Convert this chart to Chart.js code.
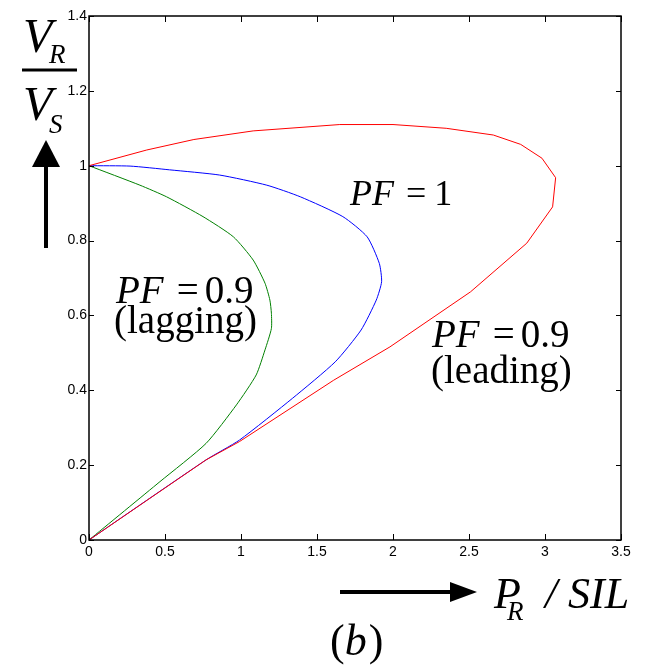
<!DOCTYPE html>
<html>
<head>
<meta charset="utf-8">
<script src="https://cdn.jsdelivr.net/npm/chart.js@4/dist/chart.umd.min.js"></script>
<style>
  html, body { margin: 0; padding: 0; background: #fff; }
  #wrap { width: 649px; height: 668px; position: relative; }
</style>
</head>
<body>
<div id="wrap"><canvas id="chartCanvas" width="649" height="668"></canvas></div>
<script>
// 数据: 三条曲线 (P_R/SIL, V_R/V_S)
const leadX = [0, 0.38, 0.69, 1.08, 1.65, 2.0, 2.35, 2.66, 2.84, 2.98, 3.07, 3.05, 2.88, 2.51, 1.98, 1.61, 0.99, 0.77, 0];
const leadY = [1.0, 1.042, 1.07, 1.093, 1.11, 1.11, 1.10, 1.082, 1.057, 1.02, 0.968, 0.89, 0.793, 0.663, 0.516, 0.427, 0.263, 0.214, 0];

const unityX = [0, 0.27, 0.53, 0.86, 1.17, 1.39, 1.67, 1.83, 1.91, 1.925, 1.89, 1.79, 1.62, 1.34, 0.99, 0.77, 0];
const unityY = [1.0, 0.999, 0.989, 0.975, 0.948, 0.917, 0.864, 0.81, 0.739, 0.69, 0.641, 0.561, 0.476, 0.379, 0.267, 0.214, 0];

const lagX = [0, 0.335, 0.51, 0.75, 0.95, 1.08, 1.158, 1.19, 1.20, 1.20, 1.158, 1.10, 0.97, 0.77, 0.467, 0];
const lagY = [1.0, 0.948, 0.917, 0.864, 0.81, 0.748, 0.686, 0.641, 0.606, 0.565, 0.508, 0.441, 0.361, 0.258, 0.156, 0];

const xTickMax = 3.5, xTickStep = 0.5;
const yTickMax = 1.4, yTickStep = 0.2;

const SERIF = '"Liberation Serif", "Times New Roman", serif';

function pts(xs, ys) {
    return xs.map((x, i) => ({ x: x, y: ys[i] }));
}

function series(label, xs, ys, color, tension) {
    return {
        label: label,
        data: pts(xs, ys),
        showLine: true,
        borderColor: color,
        backgroundColor: color,
        borderWidth: 1,
        pointRadius: 0,
        tension: tension
    };
}

// 画一段由多块文字组成的文本
function drawPieces(ctx, x, y, pieces) {
    let cx = x;
    pieces.forEach(p => {
        ctx.font = p.font;
        ctx.fillText(p.text, cx, y + (p.dy || 0));
        cx += ctx.measureText(p.text).width + (p.gap || 0);
    });
}

// 边框、内向刻度和注释
const framePlugin = {
    id: 'frame',
    afterDraw(chart) {
        const ctx = chart.ctx;
        const a = chart.chartArea;
        const xs = chart.scales.x, ys = chart.scales.y;
        ctx.save();
        ctx.strokeStyle = '#000';
        ctx.lineWidth = 1.5;
        ctx.strokeRect(a.left, a.top, a.right - a.left, a.bottom - a.top);
        ctx.lineWidth = 1;
        ctx.beginPath();
        xs.ticks.forEach(t => {
            const px = Math.round(xs.getPixelForValue(t.value)) + 0.5;
            ctx.moveTo(px, a.bottom); ctx.lineTo(px, a.bottom - 6);
            ctx.moveTo(px, a.top); ctx.lineTo(px, a.top + 6);
        });
        ys.ticks.forEach(t => {
            const py = Math.round(ys.getPixelForValue(t.value)) + 0.5;
            ctx.moveTo(a.left, py); ctx.lineTo(a.left + 5, py);
            ctx.moveTo(a.right, py); ctx.lineTo(a.right - 5, py);
        });
        ctx.stroke();

        ctx.fillStyle = '#000';
        ctx.textBaseline = 'alphabetic';
        ctx.textAlign = 'left';

        // 纵轴标签 V_R / V_S
        ctx.font = 'italic 48px ' + SERIF;
        ctx.fillText('V', 23, 52);
        ctx.fillText('V', 23, 120);
        ctx.font = 'italic 27px ' + SERIF;
        ctx.fillText('R', 49, 63);
        ctx.fillText('S', 49, 133);
        ctx.fillRect(22, 68.5, 55, 3);

        // 向上箭头
        ctx.fillRect(44, 165, 4, 83);
        ctx.beginPath();
        ctx.moveTo(32, 167); ctx.lineTo(60, 167); ctx.lineTo(46, 140); ctx.closePath();
        ctx.fill();

        // 向右箭头和横轴标签
        ctx.fillRect(340, 590, 112, 4);
        ctx.beginPath();
        ctx.moveTo(450, 582); ctx.lineTo(450, 602); ctx.lineTo(477, 592); ctx.closePath();
        ctx.fill();
        ctx.font = 'italic 44px ' + SERIF;
        ctx.fillText('P', 494, 608);
        ctx.fillText('/', 545, 608);
        ctx.fillText('SIL', 568, 608);
        ctx.font = 'italic 27px ' + SERIF;
        ctx.fillText('R', 507, 620);

        // (b)
        drawPieces(ctx, 330, 655, [
            { text: '(', font: '44px ' + SERIF },
            { text: 'b', font: 'italic 44px ' + SERIF, gap: 2 },
            { text: ')', font: '44px ' + SERIF }
        ]);

        // 曲线注释
        drawPieces(ctx, 350, 205, [
            { text: 'PF', font: 'italic 36px ' + SERIF, gap: 12 },
            { text: '=', font: '36px ' + SERIF, gap: 8 },
            { text: '1', font: '36px ' + SERIF }
        ]);
        drawPieces(ctx, 116, 303, [
            { text: 'PF', font: 'italic 39px ' + SERIF, gap: 13 },
            { text: '=', font: '39px ' + SERIF, gap: 6 },
            { text: '0.9', font: '39px ' + SERIF }
        ]);
        ctx.font = '39px ' + SERIF;
        ctx.fillText('(lagging)', 114, 333);
        drawPieces(ctx, 432, 347, [
            { text: 'PF', font: 'italic 39px ' + SERIF, gap: 13 },
            { text: '=', font: '39px ' + SERIF, gap: 6 },
            { text: '0.9', font: '39px ' + SERIF }
        ]);
        ctx.font = '39px ' + SERIF;
        ctx.fillText('(leading)', 431, 383);
        ctx.restore();
    }
};

const tickFont = { family: '"Liberation Sans", Arial, sans-serif', size: 14 };
// MATLAB 风格刻度: 1 而不是 1.0
const fmt = v => String(+Number(v).toFixed(2));

new Chart(document.getElementById('chartCanvas'), {
    type: 'scatter',
    data: {
        datasets: [
            series('PF = 0.9 (leading)', leadX, leadY, '#ff0000', 0),
            series('PF = 1', unityX, unityY, '#0000ff', 0.2),
            series('PF = 0.9 (lagging)', lagX, lagY, '#008000', 0.2)
        ]
    },
    options: {
        responsive: false,
        animation: false,
        layout: { padding: { top: 16, right: 28, left: 0, bottom: 0 } },
        plugins: {
            legend: { display: false },
            tooltip: { enabled: false }
        },
        scales: {
            x: {
                type: 'linear',
                min: 0,
                max: xTickMax,
                ticks: { stepSize: xTickStep, color: '#000', font: tickFont, padding: 4, maxRotation: 0, callback: fmt },
                grid: { display: true, drawOnChartArea: false, drawTicks: false },
                border: { display: false },
                afterFit(s) { s.height = 128; }
            },
            y: {
                type: 'linear',
                min: 0,
                max: yTickMax,
                ticks: { stepSize: yTickStep, color: '#000', font: tickFont, padding: 2, callback: fmt },
                grid: { display: true, drawOnChartArea: false, drawTicks: false },
                border: { display: false },
                afterFit(s) { s.width = 89; }
            }
        }
    },
    plugins: [framePlugin]
});
</script>
</body>
</html>
